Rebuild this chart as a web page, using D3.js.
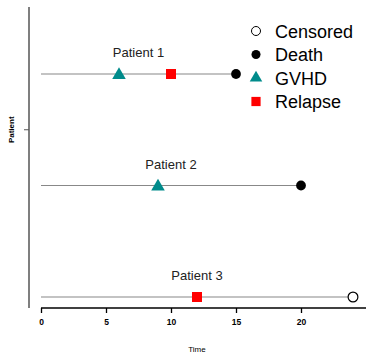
<!DOCTYPE html>
<html>
<head>
<meta charset="utf-8">
<script src="https://cdn.jsdelivr.net/npm/d3@7"></script>
<style>
  body { margin: 0; background: #fff; }
  svg { display: block; font-family: "Liberation Sans", Arial, sans-serif; }
</style>
</head>
<body>
<svg id="chart" width="366" height="355"></svg>
<script>
// Data
const patients = ["Patient 1", "Patient 2", "Patient 3"];
const endTimes = [15, 20, 24];
const eventPatient = [0, 0, 0, 1, 1, 2, 2];
const eventTime = [6, 10, 15, 9, 20, 12, 24];
const eventType = ["GVHD", "Relapse", "Death", "GVHD", "Death", "Relapse", "Censored"];
const legendLabels = ["Censored", "Death", "GVHD", "Relapse"];
const xTicks = [0, 5, 10, 15, 20];

const svg = d3.select("#chart");

const x = d3.scaleLinear([0, 5], [41, 106]);
const y = d3.scaleLinear([1, 3], [74, 297]);

const sym = {
  Censored: d3.symbolCircle,
  Death: d3.symbolCircle,
  GVHD: d3.symbolTriangle,
  Relapse: d3.symbolSquare
};
const size = { Censored: 75, Death: 75, GVHD: 80, Relapse: 100 };
const fill = { Censored: "#fff", Death: "#000", GVHD: "#008b8b", Relapse: "#ff0000" };
const stroke = { Censored: "#000", Death: "none", GVHD: "none", Relapse: "none" };

// y axis
svg.append("line")
  .attr("x1", 29).attr("x2", 29).attr("y1", 7).attr("y2", 308)
  .attr("stroke", "#555").attr("stroke-width", 1.5);
svg.append("line")
  .attr("x1", 24).attr("x2", 29).attr("y1", y(1.5)).attr("y2", y(1.5))
  .attr("stroke", "#555").attr("stroke-width", 1);
svg.append("text")
  .attr("transform", `translate(14,${y(1.5)}) rotate(-90)`)
  .attr("text-anchor", "middle")
  .attr("font-size", 8).attr("font-weight", "bold").attr("fill", "#000")
  .text("Patient");

// x axis
const xAxis = svg.append("g")
  .attr("transform", "translate(0,308)")
  .call(d3.axisBottom(x).tickValues(xTicks).tickFormat(d3.format("d")).tickSize(5).tickPadding(6));
xAxis.select(".domain").attr("d", "M41,0H366").attr("stroke", "#000").attr("stroke-width", 1.3);
xAxis.selectAll(".tick line").attr("stroke", "#000").attr("stroke-width", 1.3);
xAxis.selectAll(".tick text")
  .attr("font-size", 8.5).attr("font-weight", "bold")
  .attr("font-family", "Liberation Sans, Arial, sans-serif").attr("fill", "#000");

svg.append("text")
  .attr("x", x(12)).attr("y", 352)
  .attr("text-anchor", "middle").attr("font-size", 8).attr("fill", "#000")
  .text("Time");

// patient timelines
svg.selectAll(".seg")
  .data(patients)
  .join("line")
  .attr("class", "seg")
  .attr("x1", x(0))
  .attr("x2", (d, i) => x(endTimes[i]))
  .attr("y1", (d, i) => y(i + 1))
  .attr("y2", (d, i) => y(i + 1))
  .attr("stroke", "#888").attr("stroke-width", 1.2);

svg.selectAll(".plab")
  .data(patients)
  .join("text")
  .attr("class", "plab")
  .attr("x", (d, i) => x(endTimes[i] / 2))
  .attr("y", (d, i) => y(i + 1) - 17)
  .attr("text-anchor", "middle")
  .attr("font-size", 13).attr("fill", "#222")
  .text(d => d);

// events
svg.selectAll(".ev")
  .data(eventType)
  .join("path")
  .attr("class", "ev")
  .attr("transform", (d, i) => `translate(${x(eventTime[i])},${y(eventPatient[i] + 1) + (d === "GVHD" ? 1 : 0)})`)
  .attr("d", d => d3.symbol(sym[d], size[d])())
  .attr("fill", d => fill[d])
  .attr("stroke", d => stroke[d])
  .attr("stroke-width", 1.2);

// legend
const leg = svg.selectAll(".leg")
  .data(legendLabels)
  .join("g")
  .attr("class", "leg")
  .attr("transform", (d, i) => `translate(256,${31 + i * 23.5})`);
leg.append("path")
  .attr("d", d => d3.symbol(sym[d], size[d] * 0.85)())
  .attr("fill", d => fill[d])
  .attr("stroke", d => stroke[d])
  .attr("stroke-width", 1);
leg.append("text")
  .attr("x", 19).attr("y", 6.5)
  .attr("font-size", 18).attr("fill", "#000")
  .text(d => d);
</script>
</body>
</html>
